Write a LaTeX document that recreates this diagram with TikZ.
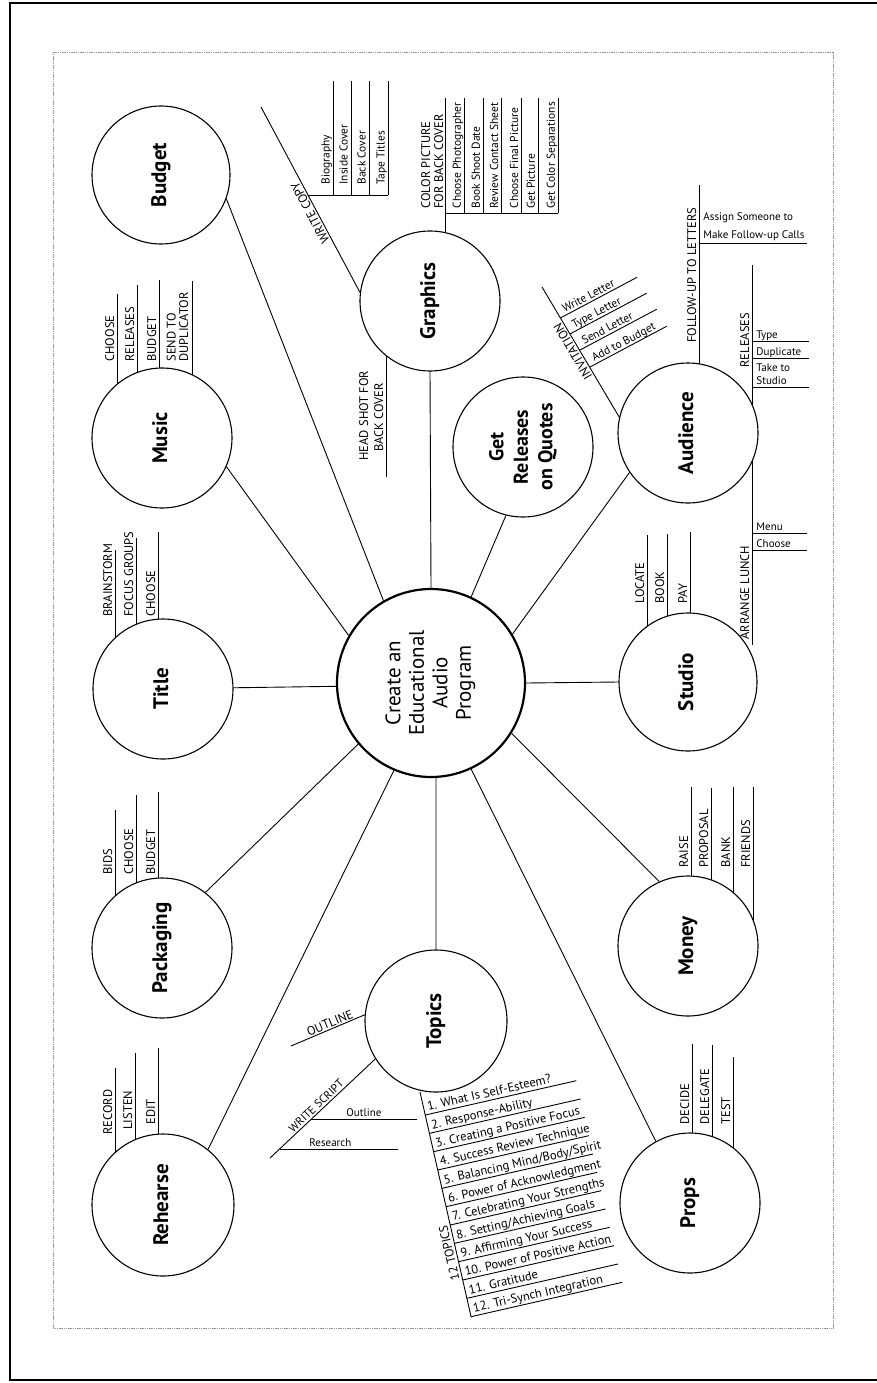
\documentclass[tikz,border=0pt]{standalone}
\usepackage{fontspec}
\setmainfont{PT Sans}
\usepackage{graphicx}
\pgfdeclarelayer{bg}
\pgfsetlayers{bg,main}
\newcounter{lc}
\newcommand\rl[1]{\rotatebox{90}{\begin{tabular}{@{}c@{}}#1\end{tabular}}}
% leg from a circle: circle, x, ytop, ytext, text
\newcommand\leg[5]{\stepcounter{lc}%
  \coordinate (t\thelc) at (#2,#3);%
  \begin{pgfonlayer}{bg}\draw[ln] (t\thelc) -- (t\thelc |- #1.center);\end{pgfonlayer}%
  \node[lab] (n\thelc) at (#2-3,#4) {#5};}
% stub from a bar: x, ytop, ybottom, ytext, text
\newcommand\stub[5]{\stepcounter{lc}%
  \coordinate (t\thelc) at (#1,#2);\coordinate (b\thelc) at (#1,#3);%
  \draw[ln] (t\thelc) -- (b\thelc);%
  \node[lab,mixed] (n\thelc) at (#1-3.5,#4) {#5};}
\begin{document}
\begin{tikzpicture}[x=1pt,y=-1pt,
  bub/.style={circle,draw,line width=1.1pt,fill=white,minimum size=140pt,inner sep=0pt,font=\fontsize{21}{25}\selectfont\bfseries},
  hubst/.style={circle,draw,line width=2.2pt,fill=white,minimum size=188pt,inner sep=0pt,font=\fontsize{21}{23.5}\selectfont},
  lab/.style={font=\fontsize{12.5}{14}\selectfont,inner sep=0pt,rotate=90,anchor=base west},
  mixed/.style={font=\fontsize{11.5}{14}\selectfont},
  hlab/.style={font=\fontsize{11}{13}\selectfont,inner sep=0pt,anchor=base west},
  tlab/.style={font=\fontsize{12.5}{14}\selectfont,inner sep=0pt,anchor=base west},
  item/.style={font=\fontsize{12.5}{15}\selectfont,inner sep=0pt,anchor=base west,rotate=12.8},
  ln/.style={line width=0.9pt},
  every path/.style={line width=0.9pt}]
\useasboundingbox (0,0) rectangle (877,1383);
% frames
\draw[line width=2pt] (877,3) -- (10,3) -- (10,1380) -- (877,1380);
\draw[gray!80,line width=0.7pt,dash pattern=on 1.2pt off 0.6pt] (53,52) rectangle (833,1328);

% circles
\node[hubst] (hub) at (431,683) {\rl{Create an\\Educational\\Audio\\Program}};
\node[bub,minimum size=138pt] (budget) at (161,175) {\rl{Budget}};
\node[bub] (music) at (162,438) {\rl{Music}};
\node[bub] (title) at (163,689) {\rl{Title}};
\node[bub] (packaging) at (162,948) {\rl{Packaging}};
\node[bub,minimum size=142pt] (rehearse) at (163,1205) {\rl{Rehearse}};
\node[bub,minimum size=142pt] (topics) at (436,1021) {\rl{Topics}};
\node[bub] (graphics) at (430,301) {\rl{Graphics}};
\node[bub,font=\fontsize{20}{24.5}\selectfont\bfseries] (getrel) at (523,447) {\rl{Get\\Releases\\on Quotes}};
\node[bub] (audience) at (688,433) {\rl{Audience}};
\node[bub,minimum size=138pt] (studio) at (688,682) {\rl{Studio}};
\node[bub] (money) at (688,946) {\rl{Money}};
\node[bub] (props) at (690,1203) {\rl{Props}};

% spokes
\draw (hub.120.6) -- (budget.-20.7);
\draw (hub.150.7) -- (music.-24.8);
\draw (hub.182.5) -- (title.1.6);
\draw (hub.-140) -- (packaging.52);
\draw (hub.-113) -- (rehearse.51.7);
\draw (hub.-87) -- (topics.90);
\draw (hub.-65.3) -- (props.119.4);
\draw (hub.-32) -- (money.114.4);
\draw (hub.0) -- (studio.180);
\draw (hub.31.4) -- (audience.-146.3);
\draw (hub.65.6) -- (getrel.-104.4);
\draw (hub.90) -- (graphics.-90);

% Music
\leg{music}{117}{294}{362}{CHOOSE}
\leg{music}{137}{285}{362}{RELEASES}
\leg{music}{159}{280}{362}{BUDGET}
\coordinate (mu4) at (192,281);
\begin{pgfonlayer}{bg}\draw (mu4) -- (mu4 |- music.center);\end{pgfonlayer}
\node[lab] (mu4a) at (188,362) {DUPLICATOR};
\node[lab] (mu4b) at (175.5,362) {SEND TO};

% Title
\leg{title}{115}{550}{617}{BRAINSTORM}
\leg{title}{136}{538}{617}{FOCUS GROUPS}
\leg{title}{158}{532}{617}{CHOOSE}

% Packaging
\leg{packaging}{115}{810}{875}{BIDS}
\leg{packaging}{136}{795}{875}{CHOOSE}
\leg{packaging}{158}{792}{875}{BUDGET}

% Rehearse
\leg{rehearse}{115}{1068}{1135}{RECORD}
\leg{rehearse}{135}{1053}{1130}{LISTEN}
\leg{rehearse}{158}{1048}{1125}{EDIT}

% Studio
\leg{studio}{647}{535}{604}{LOCATE}
\leg{studio}{667}{534}{604}{BOOK}
\leg{studio}{690}{532}{604}{PAY}

% Money
\leg{money}{691}{787}{868}{RAISE}
\leg{money}{711}{788}{868}{PROPOSAL}
\leg{money}{733}{787}{868}{BANK}
\leg{money}{753}{787}{868}{FRIENDS}

% Props
\leg{props}{692}{1044}{1125}{DECIDE}
\leg{props}{712}{1045}{1125}{DELEGATE}
\leg{props}{733}{1057}{1125}{TEST}

% Graphics: write copy
\coordinate (wc) at (261,107);
\draw (graphics.173.5) -- (wc);
\node[tlab,rotate=118] (wct) at (330,241) {WRITE COPY};
\coordinate (bb0) at (308,195);
\coordinate (bb1) at (388,195);
\draw (bb0) -- (bb1);
\stub{333}{81}{195}{185}{Biography}
\stub{351}{81}{195}{185}{Inside Cover}
\stub{369}{81}{195}{185}{Back Cover}
\stub{388}{81}{195}{185}{Tape Titles}

% Graphics: colour picture
\coordinate (cp) at (445,98);
\begin{pgfonlayer}{bg}\draw (cp) -- (cp |- graphics.center);\end{pgfonlayer}
\node[lab] (cpa) at (443,209) {FOR BACK COVER};
\node[lab] (cpb) at (430,209) {COLOR PICTURE};
\coordinate (cb0) at (445,213);
\coordinate (cb1) at (558.3,213);
\draw (cb0) -- (cb1);
\stub{464.3}{98}{213}{209}{Choose Photographer}
\stub{483.3}{98}{213}{209}{Book Shoot Date}
\stub{501.7}{98}{213}{209}{Review Contact Sheet}
\stub{521.7}{98}{213}{209}{Choose Final Picture}
\stub{538.3}{98}{213}{209}{Get Picture}
\stub{558.3}{98}{213}{209}{Get Color Separations}

% Graphics: head shot
\coordinate (hs) at (386,477);
\begin{pgfonlayer}{bg}\draw (hs) -- (hs |- graphics.center);\end{pgfonlayer}
\node[lab] (hsa) at (383,452) {BACK COVER};
\node[lab] (hsb) at (368,461) {HEAD SHOT FOR};

% Audience: invitation
\coordinate (inv) at (542,287);
\draw (audience.167) -- (inv);
\node[tlab,rotate=120.6] (invt) at (592.8,376.7) {INVITATION};
\coordinate (i1) at (560.4,318); \coordinate (j1) at (637.2,277.2);
\coordinate (i2) at (569.9,334); \coordinate (j2) at (646.7,293.2);
\coordinate (i3) at (580.0,350); \coordinate (j3) at (656.8,309.2);
\coordinate (i4) at (590.0,367); \coordinate (j4) at (666.8,326.2);
\draw (i1) -- (j1); \draw (i2) -- (j2); \draw (i3) -- (j3); \draw (i4) -- (j4);
\node[tlab,mixed,rotate=28] (w1) at (564.5,313) {Write Letter};
\node[tlab,mixed,rotate=28] (w2) at (574,329) {Type Letter};
\node[tlab,mixed,rotate=28] (w3) at (584,345) {Send Letter};
\node[tlab,mixed,rotate=28] (w4) at (594,362) {Add to Budget};

% Audience: follow-up
\coordinate (fu) at (699,185);
\begin{pgfonlayer}{bg}\draw (fu) -- (fu |- audience.center);\end{pgfonlayer}
\node[lab] (fut) at (696,343) {FOLLOW-UP TO LETTERS};
\coordinate (fb0) at (699,243); \coordinate (fb1) at (807,243);
\draw (fb0) -- (fb1);
\node[hlab] (fa) at (703,220) {Assign Someone to};
\node[hlab] (fm) at (703,238) {Make Follow-up Calls};

% Audience: releases / arrange lunch
\coordinate (rl0) at (752,265); \coordinate (rl1) at (752,645);
\begin{pgfonlayer}{bg}\draw (rl0) -- (rl1);\end{pgfonlayer}
\node[lab] (rlt) at (749,368) {RELEASES};
\coordinate (r1a) at (752,341); \coordinate (r1b) at (809,341);
\coordinate (r2a) at (752,358); \coordinate (r2b) at (809,358);
\coordinate (r3a) at (752,387); \coordinate (r3b) at (809,387);
\draw (r1a) -- (r1b); \draw (r2a) -- (r2b); \draw (r3a) -- (r3b);
\node[hlab] (rt1) at (756,338) {Type};
\node[hlab] (rt2) at (756,355) {Duplicate};
\node[hlab] (rt3) at (756,371) {Take to};
\node[hlab] (rt4) at (756,384) {Studio};
\node[lab] (alt) at (749,640) {ARRANGE LUNCH};
\coordinate (m1a) at (752,533); \coordinate (m1b) at (807,533);
\coordinate (m2a) at (752,550); \coordinate (m2b) at (807,550);
\draw (m1a) -- (m1b); \draw (m2a) -- (m2b);
\node[hlab] (mt1) at (756,530) {Menu};
\node[hlab] (mt2) at (756,547) {Choose};

% Topics: outline
\coordinate (ol) at (291,1046);
\draw (topics.175) -- (ol);
\node[tlab,rotate=22.7] (olt) at (308.6,1036.5) {OUTLINE};
% Topics: write script
\coordinate (ws) at (270,1158);
\draw (topics.-148.8) -- (ws);
\node[tlab,mixed,rotate=43.6] (wst) at (293,1133.5) {WRITE SCRIPT};
\coordinate (o1) at (311.1,1119); \coordinate (o2) at (417,1119);
\draw (o1) -- (o2);
\node[hlab] (ot) at (346,1116) {Outline};
\coordinate (s1) at (279.5,1149); \coordinate (s2) at (398,1149);
\draw (s1) -- (s2);
\node[hlab] (st) at (309,1146) {Research};

% Topics: 12 topics list
\begin{scope}[shift={(420,1092)},rotate=12.8]
  \draw (0,0) coordinate (L0) -- (0,231) coordinate (L1);
  \foreach \i/\t in {1/{1. What Is Self-Esteem?},2/{2. Response-Ability},3/{3. Creating a Positive Focus},
     4/{4. Success Review Technique},5/{5. Balancing Mind/Body/Spirit},6/{6. Power of Acknowledgment},
     7/{7. Celebrating Your Strengths},8/{8. Setting/Achieving Goals},9/{9. Affirming Your Success},
     10/{10. Power of Positive Action},11/{11. Gratitude},12/{12. Tri-Synch Integration}}{
    \pgfmathsetmacro\vv{23.6+18.8*(\i-1)}
    \draw (0,\vv) coordinate (ra\i) -- (155,\vv) coordinate (rb\i);
    \node[item] (it\i) at (3.5,\vv-3.5) {\t};
  }
  \node[tlab,rotate=102.8] (twelve) at (-3,192) {12 TOPICS};
\end{scope}
\end{tikzpicture}
\end{document}
